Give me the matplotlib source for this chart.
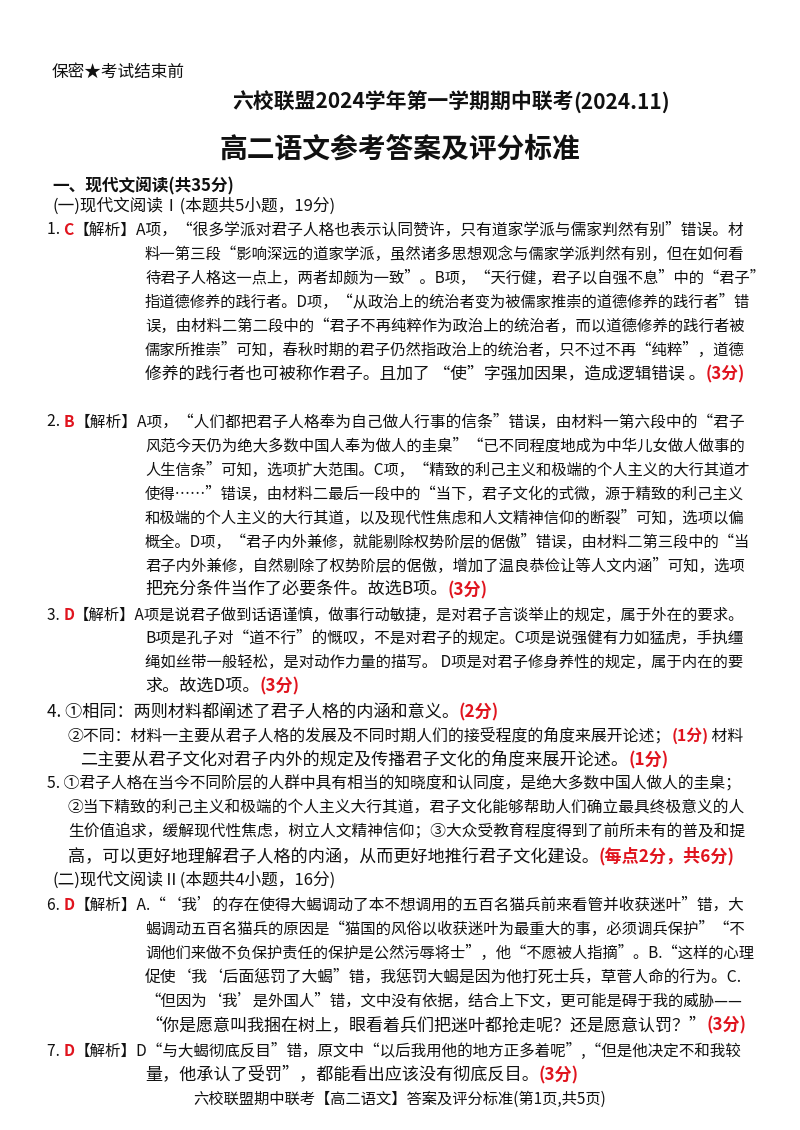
import matplotlib
matplotlib.use("Agg")
import matplotlib.pyplot as plt

plt.rcParams['font.family'] = ['Noto Sans CJK SC', 'DejaVu Sans']
R = '#e0141e'
K = '#111111'

fig = plt.figure(figsize=(8, 11.3), dpi=100)
ax = fig.add_axes([0, 0, 1, 1])
ax.set_xlim(0, 800); ax.set_ylim(1130, 0); ax.axis('off')
renderer = fig.canvas.get_renderer()

BASE = 12.3

def width(segs, size):
    w = 0
    for t, c, b in segs:
        tx = ax.text(0, 0, t, fontsize=size, fontweight='bold' if b else 'normal')
        w += tx.get_window_extent(renderer).width
        tx.remove()
    return w

def line(y, x, segs, size=BASE, right=None):
    segs = [(s, K, False) if isinstance(s, str) else s for s in segs]
    if right is not None:
        w = width(segs, size)
        size = max(11.0, min(13.5, size * (right - x) / w))
    else:
        w = width(segs, size)
        if x + w > 748:
            size = size * (748 - x) / w
    cx = x
    for t, c, b in segs:
        tx = ax.text(cx, y, t, fontsize=size, color=c, va='center', ha='left',
                     fontweight='bold' if b else 'normal')
        cx += tx.get_window_extent(renderer).width

def r(t): return (t, R, True)

L = 145; RT = 745
header = "保密★考试结束前"
title1 = "六校联盟2024学年第一学期期中联考"
title2 = "高二语文参考答案及评分标准"
footer = "六校联盟期中联考【高二语文】答案及评分标准(第1页,共5页)"

line(72, 52, ["保密★考试结束前"], 12)
line(102, 232, [(title1, K, True), ("(2024.11)", K, True)], 15)
ax.text(400, 150, title2, fontsize=20, fontweight='bold', ha='center', va='center', color=K)
line(186, 52, [("一、现代文阅读(共35分)", K, True)], 12)
line(206, 52, ["(一)现代文阅读Ⅰ(本题共5小题，19分)"], 12)

line(230, 47, ["1. ", r("C"), "【解析】A项，“很多学派对君子人格也表示认同赞许，只有道家学派与儒家判然有别”错误。材"], right=RT)
body1 = ["料一第三段“影响深远的道家学派，虽然诸多思想观念与儒家学派判然有别，但在如何看",
         "待君子人格这一点上，两者却颇为一致”。B项，“天行健，君子以自强不息”中的“君子”",
         "指道德修养的践行者。D项，“从政治上的统治者变为被儒家推崇的道德修养的践行者”错",
         "误，由材料二第二段中的“君子不再纯粹作为政治上的统治者，而以道德修养的践行者被",
         "儒家所推崇”可知，春秋时期的君子仍然指政治上的统治者，只不过不再“纯粹”，道德"]
for i, t in enumerate(body1):
    line(254 + 24 * i, L, [t], right=RT)
line(374, L, ["修养的践行者也可被称作君子。且加了 “使”字强加因果，造成逻辑错误 。", r("(3分)")])

line(422, 47, ["2. ", r("B"), "【解析】A项，“人们都把君子人格奉为自己做人行事的信条”错误，由材料一第六段中的“君子"], right=RT)
body2 = ["风范今天仍为绝大多数中国人奉为做人的圭臬”“已不同程度地成为中华儿女做人做事的",
         "人生信条”可知，选项扩大范围。C项，“精致的利己主义和极端的个人主义的大行其道才",
         "使得……”错误，由材料二最后一段中的“当下，君子文化的式微，源于精致的利己主义",
         "和极端的个人主义的大行其道，以及现代性焦虑和人文精神信仰的断裂”可知，选项以偏",
         "概全。D项，“君子内外兼修，就能剔除权势阶层的倨傲”错误，由材料二第三段中的“当",
         "君子内外兼修，自然剔除了权势阶层的倨傲，增加了温良恭俭让等人文内涵”可知，选项"]
for i, t in enumerate(body2):
    line(446 + 24 * i, L, [t], right=RT)
line(590, L, ["把充分条件当作了必要条件。故选B项。", r("(3分)")])

line(615, 47, ["3. ", r("D"), "【解析】A项是说君子做到话语谨慎，做事行动敏捷，是对君子言谈举止的规定，属于外在的要求。"], right=RT)
line(638, L, ["B项是孔子对“道不行”的慨叹，不是对君子的规定。C项是说强健有力如猛虎，手执缰"], right=RT)
line(662, L, ["绳如丝带一般轻松，是对动作力量的描写。 D项是对君子修身养性的规定，属于内在的要"], right=RT)
line(686, L, ["求。故选D项。", r("(3分)")])

line(712, 47, ["4. ①相同：两则材料都阐述了君子人格的内涵和意义。", r("(2分)")])
line(736, 68, ["②不同：材料一主要从君子人格的发展及不同时期人们的接受程度的角度来展开论述；", r("(1分)"), " 材料"], right=RT)
line(760, 80, ["二主要从君子文化对君子内外的规定及传播君子文化的角度来展开论述。", r("(1分)")])

line(784, 47, ["5. ①君子人格在当今不同阶层的人群中具有相当的知晓度和认同度，是绝大多数中国人做人的圭臬；"], right=RT)
line(808, 68, ["②当下精致的利己主义和极端的个人主义大行其道，君子文化能够帮助人们确立最具终极意义的人"], right=RT)
line(832, 68, ["生价值追求，缓解现代性焦虑，树立人文精神信仰；③大众受教育程度得到了前所未有的普及和提"], right=RT)
line(856, 68, ["高，可以更好地理解君子人格的内涵，从而更好地推行君子文化建设。", r("(每点2分，共6分)")])

line(880, 52, ["(二)现代文阅读Ⅱ(本题共4小题，16分)"], 12)
line(905, 47, ["6. ", r("D"), "【解析】A.“‘我’的存在使得大蝎调动了本不想调用的五百名猫兵前来看管并收获迷叶”错，大"], right=RT)
body6 = ["蝎调动五百名猫兵的原因是“猫国的风俗以收获迷叶为最重大的事，必须调兵保护”“不",
         "调他们来做不负保护责任的保护是公然污辱将士”，他“不愿被人指摘”。B.“这样的心理",
         "促使‘我‘后面惩罚了大蝎”错，我惩罚大蝎是因为他打死士兵，草菅人命的行为。C.",
         "“但因为‘我’是外国人”错，文中没有依据，结合上下文，更可能是碍于我的威胁——"]
for i, t in enumerate(body6):
    line(929 + 24 * i, L, [t], right=RT)
line(1025, L, ["“你是愿意叫我捆在树上，眼看着兵们把迷叶都抢走呢？还是愿意认罚？”", r("(3分)")])

line(1051, 47, ["7. ", r("D"), "【解析】D“与大蝎彻底反目”错，原文中“以后我用他的地方正多着呢”,“但是他决定不和我较"], right=RT)
line(1075, L, ["量，他承认了受罚”，都能看出应该没有彻底反目。", r("(3分)")])

ax.text(400, 1099, footer, fontsize=11, ha='center', va='center', color=K)
fig.savefig("out.png", dpi=100)
